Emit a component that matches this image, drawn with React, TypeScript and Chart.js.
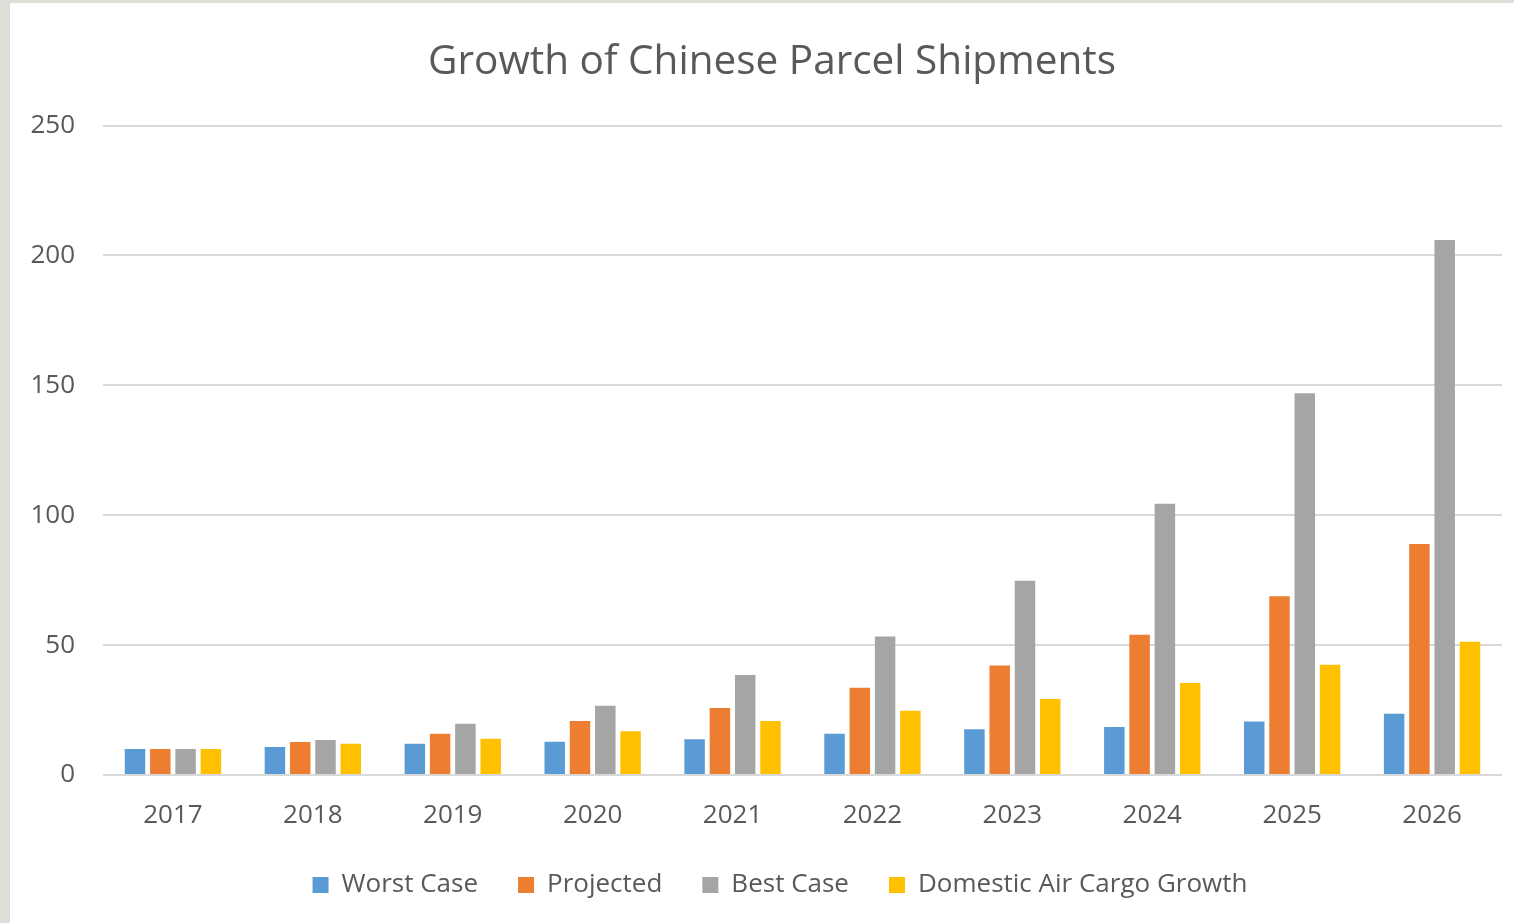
import React, { useEffect, useRef } from "react";
import { Chart, registerables } from "chart.js";

Chart.register(...registerables);

const years = ["2017", "2018", "2019", "2020", "2021", "2022", "2023", "2024", "2025", "2026"];
const worstCase = [10, 10.8, 12, 12.8, 13.8, 15.9, 17.6, 18.5, 20.6, 23.6];
const projected = [10, 12.7, 15.9, 20.8, 25.8, 33.6, 42.2, 54, 68.8, 88.9];
const bestCase = [10, 13.5, 19.7, 26.7, 38.5, 53.3, 74.8, 104.4, 147, 206];
const domesticAirCargo = [10, 12, 14, 16.8, 20.8, 24.7, 29.3, 35.4, 42.4, 51.3];
const seriesNames = ["Worst Case", "Projected", "Best Case", "Domestic Air Cargo Growth"];
const seriesColors = ["#5B9BD5", "#ED7D31", "#A5A5A5", "#FFC000"];
const yTicks = [0, 50, 100, 150, 200, 250];

const FONT = "'Open Sans', 'Noto Sans', sans-serif";
const TEXT = "#595959";

const shiftBoxes = {
  id: "shiftBoxes",
  afterLayout(chart: any) {
    const shift = (box: any, dx: number) => {
      if (!box) return;
      box.left += dx;
      box.right += dx;
    };
    shift(chart.titleBlock, 16);
    shift(chart.legend, 24);
  },
};

export default function App() {
  const ref = useRef<HTMLCanvasElement | null>(null);

  useEffect(() => {
    if (!ref.current) return;
    const values = [worstCase, projected, bestCase, domesticAirCargo];
    const chart = new Chart(ref.current, {
      type: "bar",
      data: {
        labels: years,
        datasets: values.map((v, i) => ({
          label: seriesNames[i],
          data: v,
          backgroundColor: seriesColors[i],
          borderWidth: 0,
          categoryPercentage: 0.723,
          barPercentage: 0.81,
        })),
      },
      plugins: [shiftBoxes],
      options: {
        animation: false,
        responsive: true,
        maintainAspectRatio: false,
        layout: { padding: { left: 0, right: 12, top: 0, bottom: 15 } },
        plugins: {
          title: {
            display: true,
            text: "Growth of Chinese Parcel Shipments",
            color: TEXT,
            font: { family: FONT, size: 40.5, weight: "normal" },
            padding: { top: 35, bottom: 39 },
          },
          legend: {
            position: "bottom",
            labels: {
              color: TEXT,
              font: { family: FONT, size: 26 },
              boxWidth: 16,
              boxHeight: 16,
              padding: 40,
            },
          },
          tooltip: { enabled: false },
        },
        scales: {
          x: {
            grid: { display: false, drawTicks: false },
            border: { display: false },
            ticks: { color: TEXT, font: { family: FONT, size: 26 }, padding: 25 },
            afterFit: (s: any) => { s.height = 57; },
          },
          y: {
            min: 0,
            max: 250,
            afterBuildTicks: (s: any) => { s.ticks = yTicks.map((v) => ({ value: v })); },
            grid: { color: "#D9D9D9", lineWidth: 2, drawTicks: false },
            border: { display: false },
            ticks: { color: TEXT, font: { family: FONT, size: 26 }, padding: 28 },
            afterFit: (s: any) => { s.width = 93; },
          },
        },
      },
    });
    return () => chart.destroy();
  }, []);

  return (
    <div style={{ position: "fixed", inset: 0, background: "#DEDED8" }}>
      <div style={{ position: "absolute", left: 10, top: 3, width: 1504, height: 920, background: "#FFFFFF" }}>
        <canvas ref={ref} />
      </div>
    </div>
  );
}
